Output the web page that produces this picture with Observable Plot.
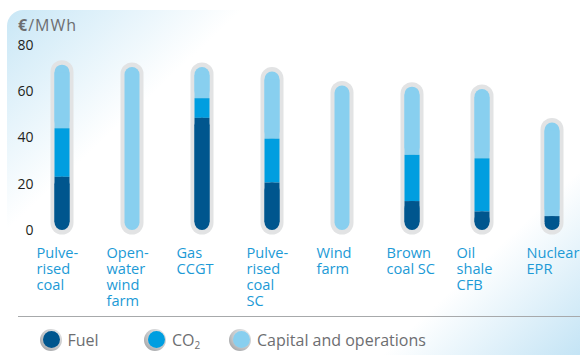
<!DOCTYPE html>
<html>
<head>
<meta charset="utf-8">
<script src="https://cdn.jsdelivr.net/npm/d3@7"></script>
<script src="https://cdn.jsdelivr.net/npm/@observablehq/plot@0.6"></script>
<style>
  body { margin: 0; background: #fff; font-family: "Open Sans", sans-serif; }
  #wrap { position: relative; width: 580px; height: 355px; overflow: hidden; }
  #bg {
    position: absolute; left: 7px; top: 10px; width: 573px; height: 345px;
    border-top-left-radius: 16px;
    background: linear-gradient(137deg, #c9e7f6 0%, #ffffff 25%, #ffffff 79%, #c4e4f5 100%);
  }
  #unit {
    position: absolute; left: 18px; top: 14px;
    font-size: 16px; line-height: 22px; color: #6d6e71; letter-spacing: 1px;
  }
  #unit b { font-weight: 700; }
  #chart { position: absolute; left: 0; top: 0; }
  #legend {
    position: absolute; left: 18px; right: 0; top: 316px; height: 39px;
    border-top: 1.5px solid #a7a9ab;
  }
  .item {
    position: absolute; top: 12px; display: flex; align-items: center;
    font-size: 16px; line-height: 22px; color: #6d6e71;
  }
  .swatch {
    position: relative; width: 22px; height: 22px; border-radius: 50%;
    margin-right: 6px; flex: none;
    background: radial-gradient(circle at 68% 30%, #f0f1f2 0%, #c4c5c7 55%, #8d8f91 100%);
  }
  .swatch i {
    position: absolute; left: 3.5px; top: 1.5px; width: 17px; height: 17px; border-radius: 50%;
  }
  .item sub { font-size: 10px; vertical-align: -3px; line-height: 0; }
</style>
</head>
<body>
<div id="wrap">
  <div id="bg"></div>
  <div id="chart"></div>
  <div id="unit"><b>€</b>/MWh</div>
  <div id="legend"></div>
</div>
<script>
// Levelised cost of electricity by plant type, €/MWh
const plants = [
  "Pulve-\nrised\ncoal",
  "Open-\nwater\nwind\nfarm",
  "Gas\nCCGT",
  "Pulve-\nrised\ncoal\nSC",
  "Wind\nfarm",
  "Brown\ncoal SC",
  "Oil\nshale\nCFB",
  "Nuclear\nEPR"
];
const fuel    = [23,   0,    48.5, 20.5, 0,    12.5, 8,  6];
const co2     = [21,   0,    8.5,  19,   0,    20,   23, 0];
const capital = [27.5, 70.5, 13.5, 29,   62.5, 29.5, 30, 40.5];
const yTicks = [0, 20, 40, 60, 80];

const seriesNames = ["Fuel", "CO2", "Capital and operations"];
const colors = { fuel: "#00568e", co2: "#009ee0", capital: "#88cfef", ring: "#e2e3e4" };

const rows = plants.map((plant, i) => ({
  plant,
  fuel: fuel[i],
  co2: co2[i],
  capital: capital[i],
  base: fuel[i] + co2[i],
  total: fuel[i] + co2[i] + capital[i]
}));

const inner = { insetLeft: 27.5, insetRight: 27.5 };

const chart = Plot.plot({
  width: 580,
  height: 316,
  marginTop: 45,
  marginBottom: 86,
  marginLeft: 36,
  marginRight: 0,
  x: { domain: plants, range: [27, 587], padding: 0, axis: null },
  y: { domain: [0, 80], axis: null },
  style: {
    fontFamily: "'Open Sans', sans-serif",
    fontSize: "14px",
    color: "#231f20",
    background: "transparent",
    overflow: "visible"
  },
  marks: [
    // grey tube around each column
    Plot.barY(rows, {
      x: "plant", y1: 0, y2: "total", fill: colors.ring,
      insetLeft: 23.5, insetRight: 23.5, insetTop: -4.5, insetBottom: -4.5, rx: 11.5
    }),
    // capital and operations: rounded top, square bottom where stacked
    Plot.barY(rows, { x: "plant", y1: "base", y2: "total", fill: colors.capital, rx: 7.5, ...inner }),
    Plot.barY(rows.filter(d => d.base > 0), {
      x: "plant", y1: "base", y2: "total", fill: colors.capital, insetTop: 8, ...inner
    }),
    // CO2 segment
    Plot.barY(rows.filter(d => d.co2 > 0), { x: "plant", y1: "fuel", y2: "base", fill: colors.co2, ...inner }),
    // fuel: rounded bottom, square top
    Plot.barY(rows.filter(d => d.fuel > 0), { x: "plant", y1: 0, y2: "fuel", fill: colors.fuel, rx: 7.5, ...inner }),
    Plot.barY(rows.filter(d => d.fuel > 0), {
      x: "plant", y1: 0, y2: "fuel", fill: colors.fuel, insetBottom: 8, ...inner
    }),
    // category labels under the columns
    Plot.text(rows, {
      x: "plant", y: 0, text: "plant",
      textAnchor: "start", lineAnchor: "top", lineHeight: 1.096,
      dx: -26, dy: 15.9, fontSize: 14.6, fill: "#1c9ad6"
    }),
    Plot.axisY(yTicks, { tickSize: 0, tickPadding: 3, label: null, fontSize: 14, fill: "#231f20" })
  ]
});
document.getElementById("chart").append(chart);

// legend
const legendItems = [
  { html: seriesNames[0], color: colors.fuel, left: 21.5 },
  { html: "CO<sub>2</sub>", color: colors.co2, left: 126 },
  { html: seriesNames[2], color: colors.capital, left: 211 }
];
const legend = document.getElementById("legend");
for (const item of legendItems) {
  const el = document.createElement("div");
  el.className = "item";
  el.style.left = item.left + "px";
  el.innerHTML = `<span class="swatch"><i style="background:${item.color}"></i></span><span>${item.html}</span>`;
  legend.append(el);
}
</script>
</body>
</html>
